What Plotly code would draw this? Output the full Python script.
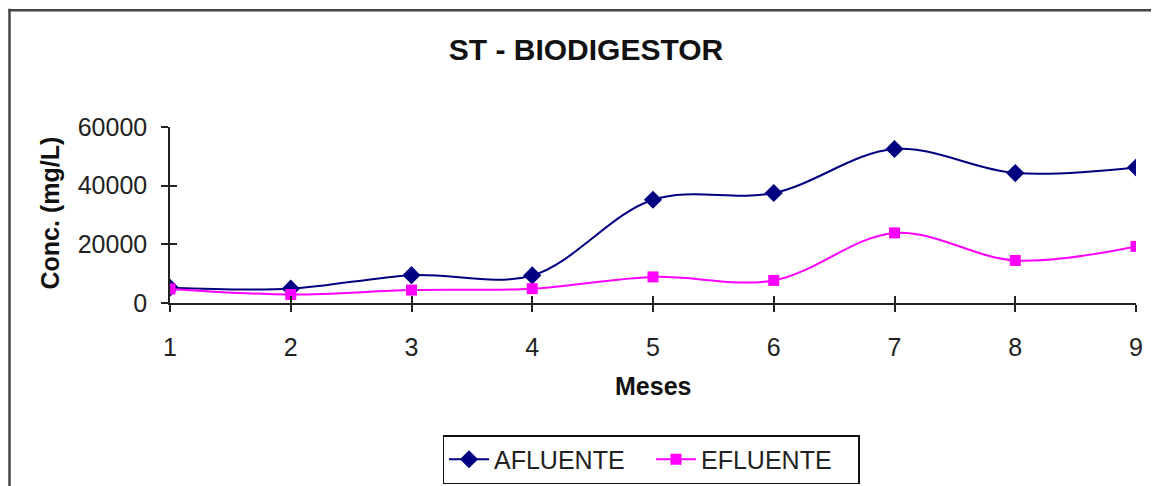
import plotly.graph_objects as go

meses = [1, 2, 3, 4, 5, 6, 7, 8, 9]
afluente = [5200, 4900, 9500, 9400, 35200, 37500, 52500, 44300, 46200]
efluente = [4800, 2900, 4400, 4900, 8900, 7700, 23900, 14500, 19300]

title_text = "ST - BIODIGESTOR"
x_title = "Meses"
y_title = "Conc. (mg/L)"
y_ticks = [0, 20000, 40000, 60000]

FONT = "Arial, Liberation Sans, sans-serif"

W, H = 1159, 486
OFF = 8  # page body margin
# desired plot area in page pixels
PL, PR, PT, PB = 170, 1136, 127, 304
L = PL - OFF
T = PT - OFF
R = W - (PR - OFF)
B = H - (PB - OFF)
pw = PR - PL
ph = PB - PT

def px_to_paper_x(px):
    return (px - PL) / pw

def py_to_paper_y(py):
    return (PB - py) / ph

fig = go.Figure()
fig.add_trace(go.Scatter(
    x=meses, y=afluente, name="AFLUENTE", mode="lines+markers",
    line=dict(color="#000080", width=2, shape="spline", smoothing=1),
    marker=dict(symbol="diamond", size=14, color="#000080"),
))
fig.add_trace(go.Scatter(
    x=meses, y=efluente, name="EFLUENTE", mode="lines+markers",
    line=dict(color="#FF00FF", width=2, shape="spline", smoothing=1),
    marker=dict(symbol="square", size=11, color="#FF00FF"),
))

axis_common = dict(showgrid=False, zeroline=False, showline=True,
                   linecolor="#222222", linewidth=1.5,
                   tickcolor="#222222", tickwidth=1.5)

fig.update_layout(
    width=W, height=H,
    margin=dict(l=L, r=R, t=T, b=B),
    paper_bgcolor="white", plot_bgcolor="white",
    font=dict(family=FONT, color="#222222"),
    title=dict(text="<b>" + title_text + "</b>", x=(586 - OFF) / W, xref="container",
               xanchor="center", y=1 - (49 - OFF) / H, yref="container", yanchor="middle",
               font=dict(size=30, color="#111111", family=FONT)),
    xaxis=dict(range=[1, 9], tickmode="array", tickvals=meses,
               ticks="outside", ticklen=7, ticklabelstandoff=14,
               tickfont=dict(size=25, color="#222222"), **axis_common),
    yaxis=dict(range=[0, 60000], tickmode="array", tickvals=y_ticks,
               ticktext=[str(v) for v in y_ticks],
               ticks="outside", ticklen=7, ticklabelstandoff=9,
               tickfont=dict(size=25, color="#222222"), **axis_common),
    xaxis2=dict(range=[1, 9], tickmode="array", tickvals=meses, overlaying="x",
                ticks="inside", ticklen=7, showticklabels=False, anchor="y",
                **axis_common),
    yaxis2=dict(range=[0, 60000], tickmode="array", tickvals=y_ticks, overlaying="y",
                ticks="inside", ticklen=7, showticklabels=False, anchor="x",
                **axis_common),
    showlegend=True,
    legend=dict(orientation="h", x=px_to_paper_x(651), xanchor="center",
                y=py_to_paper_y(435), yanchor="top",
                bordercolor="#111111", borderwidth=1.5, bgcolor="white",
                font=dict(size=25, color="#222222", family=FONT),
                itemwidth=40, entrywidth=152, tracegroupgap=0),
    annotations=[
        dict(text="<b>" + x_title + "</b>", xref="paper", yref="paper",
             x=px_to_paper_x(653), y=py_to_paper_y(387), showarrow=False,
             xanchor="center", yanchor="middle",
             font=dict(size=25, color="#111111", family=FONT)),
        dict(text="<b>" + y_title + "</b>", xref="paper", yref="paper",
             x=px_to_paper_x(50), y=py_to_paper_y(214), showarrow=False,
             textangle=-90, xanchor="center", yanchor="middle",
             font=dict(size=25, color="#111111", family=FONT)),
    ],
    shapes=[
        dict(type="line", xref="paper", yref="paper",
             x0=px_to_paper_x(9.5), x1=px_to_paper_x(9.5),
             y0=py_to_paper_y(8), y1=py_to_paper_y(500),
             line=dict(color="#444444", width=2.5)),
        dict(type="line", xref="paper", yref="paper",
             x0=px_to_paper_x(8.5), x1=px_to_paper_x(1175),
             y0=py_to_paper_y(9.5), y1=py_to_paper_y(9.5),
             line=dict(color="#444444", width=2.5)),
    ],
)

# invisible trace so overlay axes render
fig.add_trace(go.Scatter(x=[1], y=[0], xaxis="x2", yaxis="y2", mode="markers",
                         marker=dict(opacity=0), showlegend=False, hoverinfo="skip"))

fig.write_html("out.html")
